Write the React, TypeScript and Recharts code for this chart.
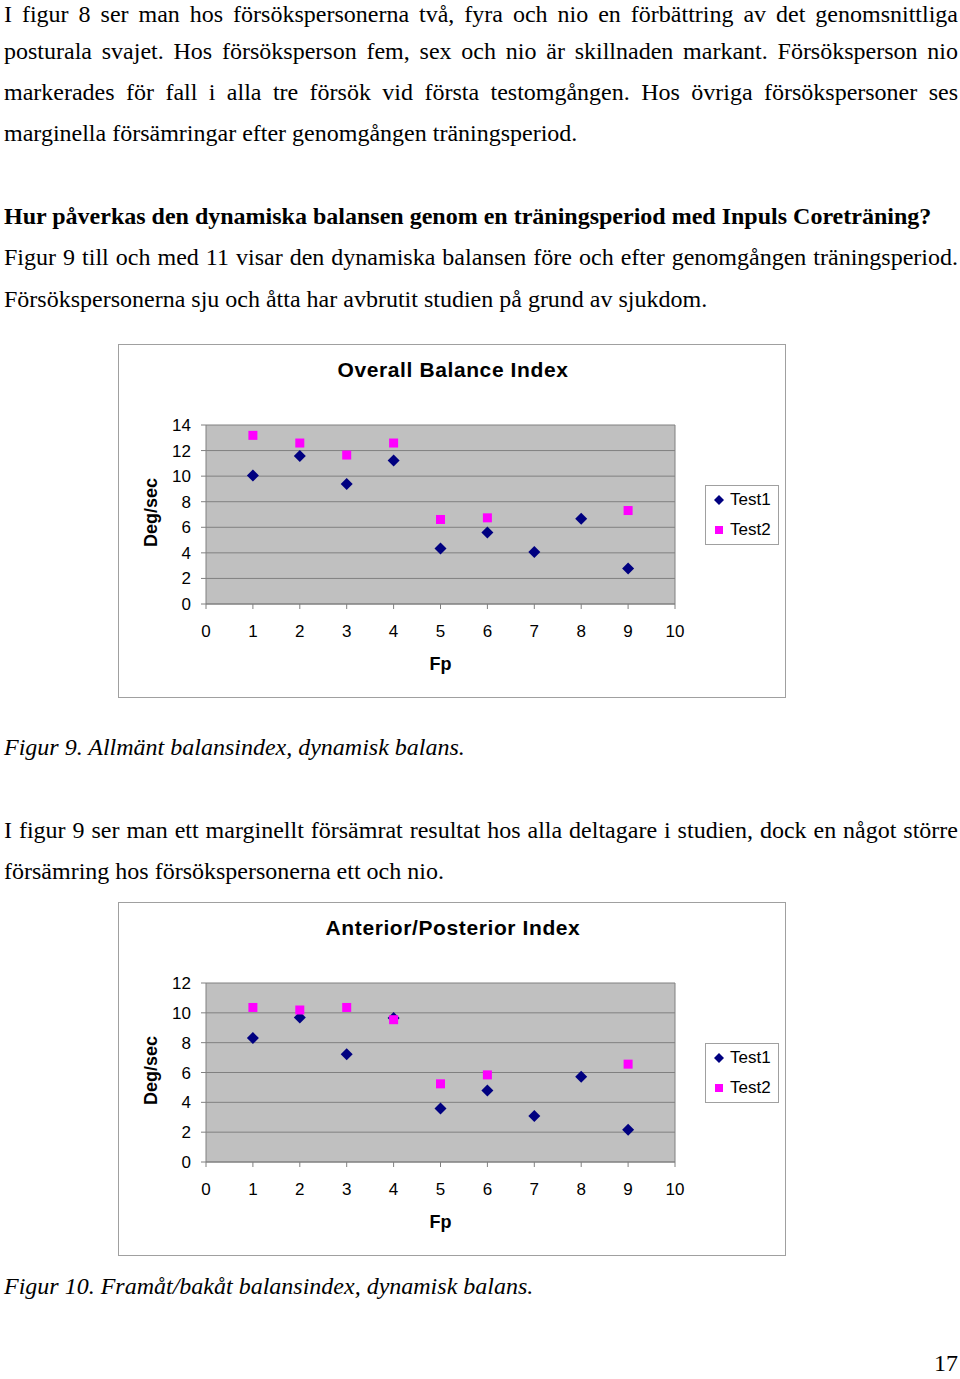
import React from "react";
import {
  CartesianGrid,
  Legend,
  ReferenceLine,
  Scatter,
  ScatterChart,
  XAxis,
  YAxis,
} from "recharts";

// Fp = försöksperson 1..9
const fp = [1, 2, 3, 4, 5, 6, 7, 8, 9];
const overallTest1 = [10.05, 11.57, 9.38, 11.23, 4.34, 5.59, 4.07, 6.66, 2.77];
const overallTest2 = [13.19, 12.59, 11.65, 12.59, 6.61, 6.74, null, null, 7.31];
const apTest1 = [8.31, 9.69, 7.23, 9.65, 3.58, 4.79, 3.09, 5.71, 2.17];
const apTest2 = [10.36, 10.19, 10.36, 9.54, 5.24, 5.84, null, null, 6.56];
const xTicks = [0, 1, 2, 3, 4, 5, 6, 7, 8, 9, 10];
const overallTicks = [0, 2, 4, 6, 8, 10, 12, 14];
const apTicks = [0, 2, 4, 6, 8, 10, 12];

const NAVY = "#000080";
const MAGENTA = "#FF00FF";
const SANS = '"Liberation Sans", Arial, sans-serif';
const SERIF = '"Liberation Serif", "Times New Roman", serif';

const toPoints = (vals: (number | null)[]) =>
  fp
    .map((x, i) => ({ x, y: vals[i] }))
    .filter((p) => p.y !== null) as { x: number; y: number }[];

const Diamond = (props: any) => {
  const { cx, cy } = props;
  const r = 6;
  return (
    <polygon
      points={`${cx},${cy - r} ${cx + r},${cy} ${cx},${cy + r} ${cx - r},${cy}`}
      fill={NAVY}
    />
  );
};

const Square = (props: any) => {
  const { cx, cy } = props;
  const s = 9;
  return <rect x={cx - s / 2} y={cy - s / 2} width={s} height={s} fill={MAGENTA} />;
};

function LegendBox({ payload }: any) {
  return (
    <div
      style={{
        width: 74,
        height: 60,
        boxSizing: "border-box",
        border: "1px solid #a0a0a0",
        background: "#fff",
        fontFamily: SANS,
        fontSize: 17,
        color: "#000",
        position: "relative",
      }}
    >
      {(payload || []).map((entry: any, i: number) => (
        <div
          key={entry.value}
          style={{ position: "absolute", left: 7, top: 3 + i * 30, height: 22, display: "flex", alignItems: "center" }}
        >
          <svg width={12} height={12} style={{ marginRight: 5 }}>
            {entry.value === "Test1" ? (
              <polygon points="6,1 11,6 6,11 1,6" fill={NAVY} />
            ) : (
              <rect x={2} y={2} width={8} height={8} fill={MAGENTA} />
            )}
          </svg>
          <span>{entry.value}</span>
        </div>
      ))}
    </div>
  );
}

function BalanceChart({
  title,
  test1,
  test2,
  yTicks,
  top,
}: {
  title: string;
  test1: (number | null)[];
  test2: (number | null)[];
  yTicks: number[];
  top: number;
}) {
  const yMax = yTicks[yTicks.length - 1];
  return (
    <div
      style={{
        position: "absolute",
        left: 118,
        top,
        width: 668,
        height: 354,
        boxSizing: "border-box",
        border: "1px solid #a0a0a0",
        background: "#fff",
      }}
    >
      <div
        style={{
          position: "absolute",
          left: 0,
          width: 668,
          top: 13,
          textAlign: "center",
          fontFamily: SANS,
          fontWeight: "bold",
          fontSize: 21,
          letterSpacing: 0.6,
        }}
      >
        {title}
      </div>
      {/* x axis height (30) and y axis width (87) come on top of the margins */}
      <ScatterChart width={666} height={352} margin={{ top: 80, right: 110, bottom: 63, left: 0 }}>
        <CartesianGrid fill="#c0c0c0" fillOpacity={1} stroke="#808080" vertical={false} />
        <XAxis
          type="number"
          dataKey="x"
          domain={[0, 10]}
          ticks={xTicks}
          interval={0}
          tickSize={5}
          tickMargin={16}
          stroke="#808080"
          tick={{ fill: "#000", fontSize: 17, fontFamily: SANS }}
          label={{
            content: (p: any) => {
              const vb = p.viewBox;
              return (
                <text
                  x={vb.x + vb.width / 2}
                  y={vb.y + 66}
                  textAnchor="middle"
                  fontFamily={SANS}
                  fontWeight="bold"
                  fontSize={18}
                  fill="#000"
                >
                  Fp
                </text>
              );
            },
          }}
        />
        <YAxis
          type="number"
          dataKey="y"
          domain={[0, yMax]}
          ticks={yTicks}
          interval={0}
          width={87}
          tickSize={5}
          tickMargin={10}
          stroke="#808080"
          tick={{ fill: "#000", fontSize: 17, fontFamily: SANS }}
          label={{
            content: (p: any) => {
              const vb = p.viewBox;
              const cx = 32;
              const cy = vb.y + vb.height / 2 - 2;
              return (
                <text
                  x={cx}
                  y={cy}
                  transform={`rotate(-90 ${cx} ${cy})`}
                  textAnchor="middle"
                  dominantBaseline="central"
                  fontFamily={SANS}
                  fontWeight="bold"
                  fontSize={18}
                  fill="#000"
                >
                  Deg/sec
                </text>
              );
            },
          }}
        />
        <ReferenceLine x={10} stroke="#808080" />
        <Legend
          layout="vertical"
          align="center"
          verticalAlign="middle"
          content={<LegendBox />}
          wrapperStyle={{ left: 586, top: 140, width: 74, height: 60 }}
        />
        <Scatter name="Test1" data={toPoints(test1)} fill={NAVY} shape={Diamond} isAnimationActive={false} />
        <Scatter name="Test2" data={toPoints(test2)} fill={MAGENTA} shape={Square} isAnimationActive={false} />
      </ScatterChart>
    </div>
  );
}

function Line({
  y,
  children,
  justify,
  bold,
  italic,
}: {
  y: number;
  children: React.ReactNode;
  justify?: boolean;
  bold?: boolean;
  italic?: boolean;
}) {
  return (
    <div
      style={{
        position: "absolute",
        left: 4,
        top: y - 15,
        width: 954,
        height: 28,
        lineHeight: "28px",
        fontSize: 24,
        fontFamily: SERIF,
        fontWeight: bold ? "bold" : "normal",
        fontStyle: italic ? "italic" : "normal",
        textAlign: justify ? "justify" : "left",
        textAlignLast: justify ? "justify" : "left",
        whiteSpace: justify ? "normal" : "nowrap",
        color: "#000",
      }}
    >
      {children}
    </div>
  );
}

export default function App() {
  return (
    <div style={{ position: "absolute", left: 0, top: 0, width: 960, height: 1379, background: "#fff", overflow: "hidden" }}>
      <Line y={15} justify>
        I figur 8 ser man hos försökspersonerna två, fyra och nio en förbättring av det genomsnittliga
      </Line>
      <Line y={52} justify>
        posturala svajet. Hos försöksperson fem, sex och nio är skillnaden markant. Försöksperson nio
      </Line>
      <Line y={93} justify>
        markerades för fall i alla tre försök vid första testomgången. Hos övriga försökspersoner ses
      </Line>
      <Line y={134}>marginella försämringar efter genomgången träningsperiod.</Line>

      <Line y={217} bold>
        Hur påverkas den dynamiska balansen genom en träningsperiod med Inpuls Coreträning?
      </Line>
      <Line y={258} justify>
        Figur 9 till och med 11 visar den dynamiska balansen före och efter genomgången träningsperiod.
      </Line>
      <Line y={300}>Försökspersonerna sju och åtta har avbrutit studien på grund av sjukdom.</Line>

      <BalanceChart title="Overall Balance Index" test1={overallTest1} test2={overallTest2} yTicks={overallTicks} top={344} />

      <Line y={748} italic>
        Figur 9. Allmänt balansindex, dynamisk balans.
      </Line>

      <Line y={831} justify>
        I figur 9 ser man ett marginellt försämrat resultat hos alla deltagare i studien, dock en något större
      </Line>
      <Line y={872}>försämring hos försökspersonerna ett och nio.</Line>

      <BalanceChart title="Anterior/Posterior Index" test1={apTest1} test2={apTest2} yTicks={apTicks} top={902} />

      <Line y={1287} italic>
        Figur 10. Framåt/bakåt balansindex, dynamisk balans.
      </Line>

      <div
        style={{
          position: "absolute",
          right: 2,
          top: 1349,
          fontSize: 24,
          lineHeight: "28px",
          height: 28,
          fontFamily: SERIF,
        }}
      >
        17
      </div>
    </div>
  );
}
